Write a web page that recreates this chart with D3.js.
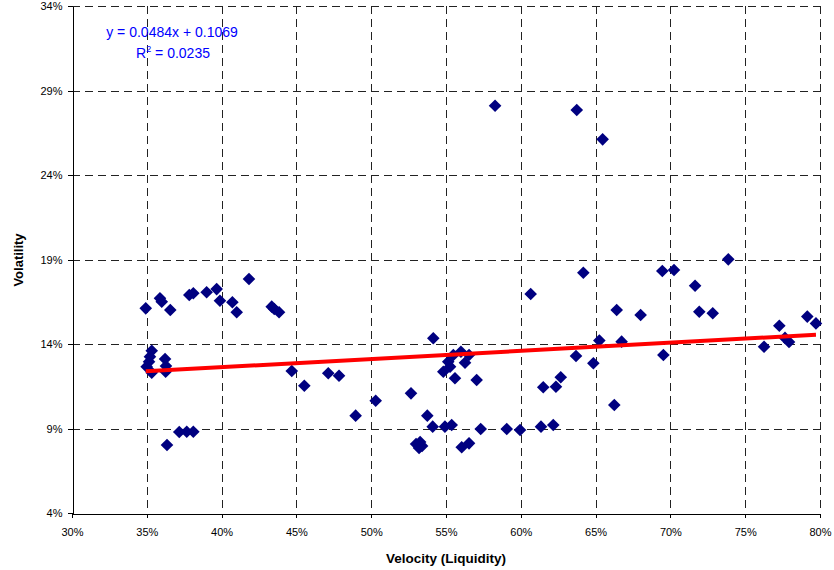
<!DOCTYPE html>
<html>
<head>
<meta charset="utf-8">
<script src="https://cdn.jsdelivr.net/npm/d3@7"></script>
<style>
  html, body { margin: 0; padding: 0; background: #fff; }
  svg { display: block; font-family: "Liberation Sans", Arial, sans-serif; }
</style>
</head>
<body>
<svg id="chart" width="834" height="570"></svg>
<script>
// Velocity (Liquidity) values
const velocity = [
  0.3493, 0.3588, 0.3600, 0.3657, 0.3784, 0.3811, 0.3900, 0.3967, 0.3989, 0.4072,
  0.4101, 0.4183, 0.4335, 0.4352, 0.4384,
  0.3533, 0.3521, 0.3499, 0.3533, 0.3515, 0.3622, 0.3628, 0.3626,
  0.3717, 0.3767, 0.3811, 0.3635,
  0.4469, 0.4553, 0.4713, 0.4785, 0.4896, 0.5030,
  0.5415, 0.5600, 0.5654, 0.5549, 0.5515, 0.5482, 0.5527, 0.5627, 0.5560, 0.5705,
  0.5266, 0.5375, 0.5411, 0.5493, 0.5538, 0.5732, 0.5906, 0.5995,
  0.5300, 0.5327, 0.5320, 0.5340, 0.5605, 0.5654,
  0.5828, 0.6374, 0.6547, 0.6418, 0.6066, 0.6641, 0.6801, 0.6525, 0.6674, 0.6369,
  0.6485, 0.6267, 0.6235, 0.6150, 0.6625, 0.6135, 0.6217,
  0.6946, 0.7024, 0.7387, 0.7165, 0.7193, 0.7283, 0.6953, 0.7626, 0.7728, 0.7766,
  0.7793, 0.7915, 0.7973
];
// Volatility values
const volatility = [
  0.1611, 0.1670, 0.1650, 0.1601, 0.1690, 0.1700, 0.1706, 0.1725, 0.1656, 0.1647,
  0.1588, 0.1785, 0.1621, 0.1607, 0.1588,
  0.1360, 0.1325, 0.1266, 0.1230, 0.1295, 0.1311, 0.1270, 0.1236,
  0.0879, 0.0881, 0.0881, 0.0802,
  0.1240, 0.1153, 0.1227, 0.1212, 0.0976, 0.1064,
  0.1434, 0.1354, 0.1335, 0.1335, 0.1295, 0.1236, 0.1266, 0.1289, 0.1197, 0.1187,
  0.1108, 0.0976, 0.0911, 0.0911, 0.0921, 0.0897, 0.0897, 0.0891,
  0.0808, 0.0820, 0.0785, 0.0797, 0.0789, 0.0812,
  0.2810, 0.2785, 0.2611, 0.1822, 0.1696, 0.1601, 0.1572, 0.1420, 0.1414, 0.1329,
  0.1286, 0.1203, 0.1147, 0.1144, 0.1039, 0.0911, 0.0921,
  0.1832, 0.1838, 0.1901, 0.1745, 0.1591, 0.1582, 0.1335, 0.1384, 0.1508, 0.1436,
  0.1412, 0.1562, 0.1522
];
const xTicks = [0.30, 0.35, 0.40, 0.45, 0.50, 0.55, 0.60, 0.65, 0.70, 0.75, 0.80];
const yTicks = [0.04, 0.09, 0.14, 0.19, 0.24, 0.29, 0.34];
const trendSlope = 0.0484;
const trendIntercept = 0.1069;
const rSquared = 0.0235;

const svg = d3.select("#chart");
const x = d3.scaleLinear().domain([0.30, 0.80]).range([72, 820]);
const y = d3.scaleLinear().domain([0.04, 0.34]).range([513, 6]);
const pct = d => Math.round(d * 100) + "%";

// grid lines
const grid = svg.append("g").attr("shape-rendering", "crispEdges");
grid.selectAll("line.v").data(xTicks.slice(1)).join("line")
  .attr("x1", d => Math.round(x(d)) + 0.5).attr("x2", d => Math.round(x(d)) + 0.5)
  .attr("y1", y(0.34)).attr("y2", y(0.04))
  .attr("stroke", "#222").attr("stroke-width", 1).attr("stroke-dasharray", "8,5");
grid.selectAll("line.h").data(yTicks.slice(1)).join("line")
  .attr("y1", d => Math.round(y(d)) + 0.5).attr("y2", d => Math.round(y(d)) + 0.5)
  .attr("x1", x(0.30)).attr("x2", x(0.80))
  .attr("stroke", "#222").attr("stroke-width", 1).attr("stroke-dasharray", "8,5");

// axes
const xAxis = svg.append("g")
  .attr("transform", "translate(0," + (Math.round(y(0.04)) + 0.5) + ")")
  .call(d3.axisBottom(x).tickValues(xTicks).tickFormat(pct).tickSize(5).tickSizeOuter(0));
const yAxis = svg.append("g")
  .attr("transform", "translate(" + (Math.round(x(0.30)) + 0.5) + ",0)")
  .call(d3.axisLeft(y).tickValues(yTicks).tickFormat(pct).tickSize(5).tickSizeOuter(0));
[xAxis, yAxis].forEach(a => {
  a.selectAll("path, line").attr("stroke", "#000").attr("shape-rendering", "crispEdges");
  a.selectAll("text").attr("font-family", "Liberation Sans, Arial, sans-serif")
    .attr("font-size", 11).attr("fill", "#000");
});
xAxis.selectAll("line").attr("y2", 4);
xAxis.selectAll("text").attr("dy", "1.35em");
yAxis.selectAll("text").attr("x", -10);

// points
const r = 6.3;
const diamond = `M0,${-r}L${r},0L0,${r}L${-r},0Z`;
svg.append("g").selectAll("path").data(velocity.map((v, i) => [v, volatility[i]])).join("path")
  .attr("d", diamond)
  .attr("transform", d => `translate(${x(d[0])},${y(d[1])})`)
  .attr("fill", "#000080");

// trendline
const xMin = d3.min(velocity), xMax = d3.max(velocity);
svg.append("line")
  .attr("x1", x(xMin)).attr("y1", y(trendSlope * xMin + trendIntercept))
  .attr("x2", x(xMax)).attr("y2", y(trendSlope * xMax + trendIntercept))
  .attr("stroke", "#ff0000").attr("stroke-width", 4);

// equation
const eq = svg.append("g").attr("fill", "#0000ff").attr("font-size", 14)
  .attr("font-family", "Liberation Sans, Arial, sans-serif");
eq.append("text").attr("x", 172).attr("y", 37).attr("text-anchor", "middle")
  .text(`y = ${trendSlope}x + ${trendIntercept}`);
const r2 = eq.append("text").attr("x", 173).attr("y", 58).attr("text-anchor", "middle");
r2.append("tspan").text("R");
r2.append("tspan").attr("font-size", 9).attr("dy", -6).text("2");
r2.append("tspan").attr("dy", 6).text(` = ${rSquared}`);

// axis titles
svg.append("text").attr("x", 446).attr("y", 563).attr("text-anchor", "middle")
  .attr("font-weight", "bold").attr("font-size", 13.5).text("Velocity (Liquidity)");
svg.append("text").attr("transform", "translate(23,260) rotate(-90)").attr("text-anchor", "middle")
  .attr("font-weight", "bold").attr("font-size", 13).text("Volatility");
</script>
</body>
</html>
